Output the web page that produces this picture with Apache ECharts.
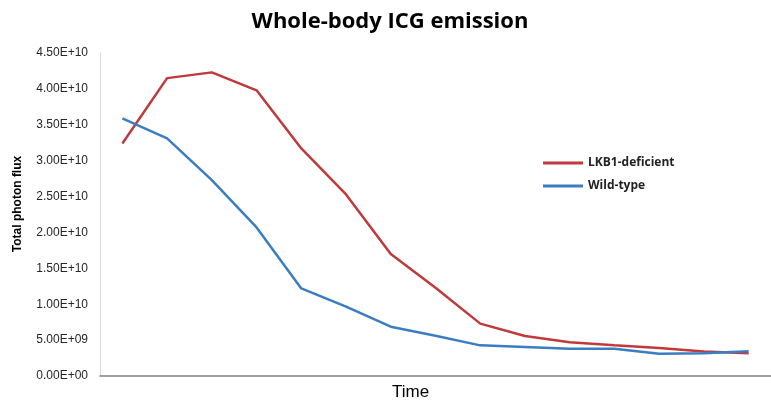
<!DOCTYPE html>
<html><head><meta charset="utf-8">
<script src="https://cdn.jsdelivr.net/npm/echarts@6/dist/echarts.min.js"></script>
<style>html,body{margin:0;padding:0;background:#fff}#c{width:771px;height:405px}</style>
</head><body><div id="c"></div>
<script>
var categories = ['1','2','3','4','5','6','7','8','9','10','11','12','13','14','15'];
var lkb1 = [3.24e10, 4.15e10, 4.23e10, 3.98e10, 3.17e10, 2.53e10, 1.70e10, 1.23e10, 0.73e10, 0.557e10, 0.47e10, 0.427e10, 0.39e10, 0.34e10, 0.316e10];
var wildType = [3.59e10, 3.31e10, 2.73e10, 2.07e10, 1.22e10, 0.966e10, 0.687e10, 0.56e10, 0.427e10, 0.404e10, 0.38e10, 0.38e10, 0.311e10, 0.316e10, 0.344e10];
var yTickLabels = ['0.00E+00','5.00E+09','1.00E+10','1.50E+10','2.00E+10','2.50E+10','3.00E+10','3.50E+10','4.00E+10','4.50E+10'];
var seriesNames = ['LKB1-deficient', 'Wild-type'];

var chart = echarts.init(document.getElementById('c'), null, {renderer: 'canvas'});
chart.setOption({
  animation: false,
  backgroundColor: '#fff',
  title: {
    text: 'Whole-body ICG emission',
    left: 385, top: 6, textAlign: 'center',
    textStyle: {fontFamily: 'Open Sans', fontWeight: 'bold', fontSize: 22, color: '#000'}
  },
  legend: {
    orient: 'vertical', left: 538, top: 152,
    itemWidth: 40, itemHeight: 3, itemGap: 11,
    icon: 'rect',
    data: seriesNames,
    textStyle: {fontFamily: 'Open Sans', fontSize: 12, fontWeight: 'bold', color: '#222'}
  },
  grid: {left: 100, right: -15, top: 53, bottom: 29},
  xAxis: {
    type: 'category', data: categories, boundaryGap: true,
    axisLine: {lineStyle: {color: '#808080', width: 1.5}},
    axisTick: {show: false}, axisLabel: {show: false}
  },
  yAxis: {
    type: 'value', min: 0, max: 4.5e10, interval: 0.5e10,
    axisLine: {show: true, lineStyle: {color: '#d9d9d9'}},
    axisTick: {show: false},
    splitLine: {show: false},
    axisLabel: {
      margin: 12, fontFamily: 'Liberation Sans', fontSize: 12, color: '#262626',
      formatter: function (v) { return yTickLabels[Math.round(v / 0.5e10)]; }
    }
  },
  graphic: [{
    type: 'text', left: 392, top: 384,
    style: {text: 'Time', font: '17px "Liberation Sans"', fill: '#000'}
  }, {
    type: 'text', x: 18, y: 204, rotation: Math.PI / 2,
    style: {text: 'Total photon flux', font: 'bold 12px "Liberation Sans"', fill: '#000', align: 'center', verticalAlign: 'middle'}
  }],
  series: [
    {name: seriesNames[0], type: 'line', data: lkb1, symbol: 'none', lineStyle: {color: '#c0393b', width: 2.5}, itemStyle: {color: '#c0393b'}},
    {name: seriesNames[1], type: 'line', data: wildType, symbol: 'none', lineStyle: {color: '#3a7dc2', width: 2.5}, itemStyle: {color: '#3a7dc2'}}
  ]
});
</script></body></html>
